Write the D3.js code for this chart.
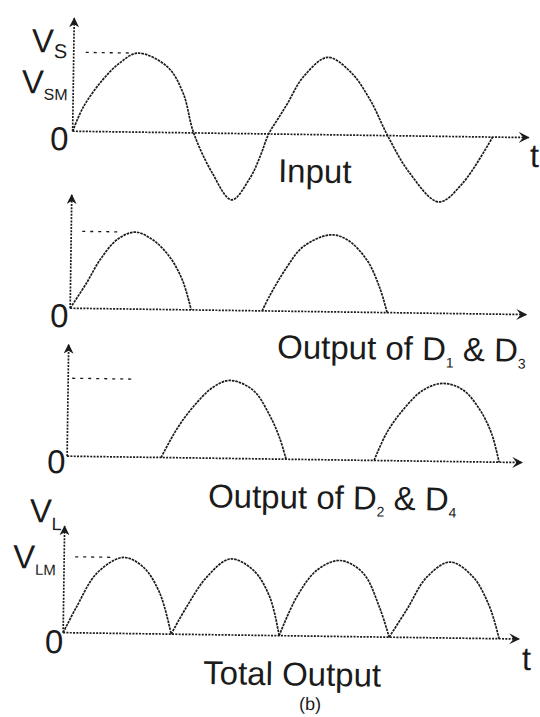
<!DOCTYPE html>
<html>
<head>
<meta charset="utf-8">
<script src="https://cdn.jsdelivr.net/npm/d3@7"></script>
<style>
body{margin:0;background:#fff;}
text{font-family:"Liberation Sans",Arial,sans-serif;fill:#1b1b1b;}
</style>
</head>
<body>
<svg id="chart" width="540" height="717"></svg>
<script>
// waveform points: [t, v], t in axis units, v relative to the peak
var inputWave = [[0,0],[0.10,0.30],[0.27,0.62],[0.45,0.86],[0.64,1.0],[0.94,0.83],[1.10,0.50],[1.21,0],
	[1.40,-0.50],[1.60,-0.84],[1.78,-0.56],[1.88,-0.28],[1.96,0],[2.05,0.19],[2.14,0.38],[2.30,0.73],
	[2.54,0.98],[2.77,0.80],[2.97,0.45],[3.15,0],[3.37,-0.46],[3.67,-0.83],[3.90,-0.60],[4.20,0]];
var outD13 = [
	[[0,0],[0.16,0.33],[0.29,0.63],[0.46,0.90],[0.64,1.0],[0.82,0.90],[0.99,0.68],[1.12,0.38],[1.21,0]],
	[[1.92,0],[1.99,0.19],[2.16,0.57],[2.32,0.84],[2.59,1.0],[2.76,0.94],[2.96,0.68],[3.09,0.33],[3.17,0]]
];
var outD24 = [
	[[0.94,0],[1.09,0.36],[1.25,0.65],[1.45,0.91],[1.62,1.0],[1.85,0.88],[2.02,0.56],[2.12,0.28],[2.19,0]],
	[[3.07,0],[3.19,0.35],[3.35,0.65],[3.55,0.91],[3.75,1.0],[3.95,0.92],[4.12,0.67],[4.24,0.37],[4.32,0]]
];
var totalWave = [
	[[0,0],[0.13,0.34],[0.33,0.79],[0.59,1.0],[0.79,0.88],[0.96,0.54],[1.08,0]],
	[[1.08,0],[1.23,0.36],[1.43,0.76],[1.66,1.0],[1.89,0.86],[2.06,0.51],[2.16,0]],
	[[2.16,0],[2.33,0.51],[2.53,0.87],[2.76,1.0],[2.99,0.84],[3.16,0.39],[3.26,0]],
	[[3.26,0],[3.43,0.36],[3.63,0.80],[3.86,1.0],[4.09,0.81],[4.26,0.42],[4.36,0]]
];
// peak marker (dashed) extents in t
var peakRefs = [[0.12,0.60],[0.11,0.46],[0.04,0.67],[0.11,0.46]];

var panels = [
	{x0:69.5, y0:134,   amp:79, yTop:1.43, tEnd:4.56, waves:[inputWave]},
	{x0:69.5, y0:311,   amp:77, yTop:1.47, tEnd:4.56, waves:outD13},
	{x0:68.5, y0:459,   amp:78, yTop:1.43, tEnd:4.55, waves:outD24},
	{x0:67,   y0:635.5, amp:76, yTop:1.40, tEnd:4.56, waves:totalWave}
];

var svg = d3.select('#chart');
var defs = svg.append('defs');
defs.append('marker')
	.attr('id','arrowUp')
	.attr('viewBox','0 0 10 10')
	.attr('refX',9).attr('refY',5)
	.attr('markerUnits','userSpaceOnUse')
	.attr('markerWidth',10).attr('markerHeight',10)
	.attr('orient','auto')
	.append('path')
		.attr('d','M0,0 L10,5 L0,10 L3,5 z')
		.attr('fill','#1b1b1b');
defs.append('marker')
	.attr('id','arrowRight')
	.attr('viewBox','0 0 10 10')
	.attr('refX',9).attr('refY',5)
	.attr('markerUnits','userSpaceOnUse')
	.attr('markerWidth',11).attr('markerHeight',11)
	.attr('orient','auto')
	.append('path')
		.attr('d','M0,0 L10,5 L0,10 L4,5 z')
		.attr('fill','#1b1b1b');

// the scan is turned a little clockwise
var root = svg.append('g').attr('transform','rotate(0.8,270,358)');

panels.forEach(function(p, i){
	var x = d3.scaleLinear().domain([0, 4.6]).range([p.x0, p.x0 + 460]);
	var y = d3.scaleLinear().domain([0, 1]).range([p.y0, p.y0 - p.amp]);
	var g = root.append('g').attr('class','panel');

	// axes
	g.append('line')
		.attr('x1',x(0)).attr('y1',y(0))
		.attr('x2',x(0)).attr('y2',y(p.yTop))
		.attr('stroke','#1b1b1b').attr('stroke-width',1.7)
		.attr('stroke-dasharray','2,1.3')
		.attr('marker-end','url(#arrowUp)');
	g.append('line')
		.attr('x1',x(0)).attr('y1',y(0))
		.attr('x2',x(p.tEnd)).attr('y2',y(0))
		.attr('stroke','#1b1b1b').attr('stroke-width',1.7)
		.attr('stroke-dasharray','2,1.3')
		.attr('marker-end','url(#arrowRight)');

	// dashed peak level
	g.append('line')
		.attr('x1',x(peakRefs[i][0])).attr('y1',y(1))
		.attr('x2',x(peakRefs[i][1])).attr('y2',y(1))
		.attr('stroke','#1b1b1b').attr('stroke-width',1.3)
		.attr('stroke-dasharray','3,5');

	var line = d3.line()
		.x(function(d){ return x(d[0]); })
		.y(function(d){ return y(d[1]); })
		.curve(d3.curveCatmullRom.alpha(0.5));

	g.selectAll('path.wave')
		.data(p.waves)
		.enter().append('path')
		.attr('class','wave')
		.attr('d', line)
		.attr('fill','none')
		.attr('stroke','#1b1b1b')
		.attr('stroke-width',1.7)
		.attr('stroke-dasharray','2.6,0.9');
});

// labels
function label(x, y, parts, size){
	var t = root.append('text').attr('x',x).attr('y',y).attr('font-size',size);
	parts.forEach(function(pt){
		var s = t.append('tspan').text(pt[0]);
		if (pt[1]) s.attr('font-size',pt[1]);
		if (pt[2]) s.attr('dy',pt[2]);
	});
	return t;
}

label(27.5, 55.3, [['V'],['S',20,5.7]], 33);
label(18, 96.5, [['V'],['SM',16,6.5]], 33);
label(47, 153, [['0']], 33);
label(527, 163.4, [['t']], 33);
label(275.5, 182, [['Input']], 33);

label(49.6, 330, [['0']], 33);
label(277, 358, [['Output of D'],['1',14,7],[' & D',null,-7],['3',14,7]], 33);

label(48.6, 476, [['0']], 33);
label(210, 508, [['Output of D'],['2',14,7],[' & D',null,-7],['4',14,7]], 33);

label(32, 525.4, [['V'],['L',18,7.6]], 33);
label(16, 571.6, [['V'],['LM',15,6.5]], 33);
label(49, 656, [['0']], 33);
label(526, 666.5, [['t']], 33);
label(207.6, 685, [['Total Output']], 33);
label(304, 709.5, [['(b)']], 18);
</script>
</body>
</html>
